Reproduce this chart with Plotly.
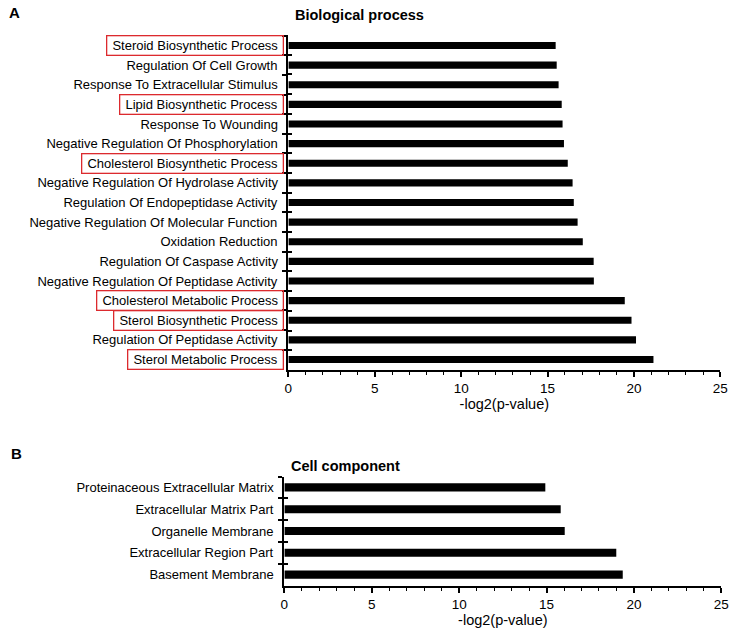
import plotly.graph_objects as go

# ---------------- data ----------------
bp_terms = [
    "Steroid Biosynthetic Process",
    "Regulation Of Cell Growth",
    "Response To Extracellular Stimulus",
    "Lipid Biosynthetic Process",
    "Response To Wounding",
    "Negative Regulation Of Phosphorylation",
    "Cholesterol Biosynthetic Process",
    "Negative Regulation Of Hydrolase Activity",
    "Regulation Of Endopeptidase Activity",
    "Negative Regulation Of Molecular Function",
    "Oxidation Reduction",
    "Regulation Of Caspase Activity",
    "Negative Regulation Of Peptidase Activity",
    "Cholesterol Metabolic Process",
    "Sterol Biosynthetic Process",
    "Regulation Of Peptidase Activity",
    "Sterol Metabolic Process",
]
bp_values = [15.47, 15.53, 15.64, 15.82, 15.87, 15.95, 16.17, 16.45, 16.52,
             16.74, 17.04, 17.67, 17.68, 19.47, 19.86, 20.12, 21.13]
bp_highlight = [True, False, False, True, False, False, True, False, False,
                False, False, False, False, True, True, False, True]

cc_terms = [
    "Proteinaceous Extracellular Matrix",
    "Extracellular Matrix Part",
    "Organelle Membrane",
    "Extracellular Region Part",
    "Basement Membrane",
]
cc_values = [14.93, 15.81, 16.04, 18.99, 19.36]

x_ticks = [0, 5, 10, 15, 20, 25]
x_title = "-log2(p-value)"
title_a = "Biological process"
title_b = "Cell component"

# ---------------- figure ----------------
W, H = 745, 635
FONT = "Arial, Liberation Sans, sans-serif"
RED = "#dc2a2e"

fig = go.Figure()
fig.add_trace(go.Bar(x=bp_values, y=bp_terms, orientation="h", width=0.36,
                     marker=dict(color="black", line=dict(width=0)),
                     xaxis="x", yaxis="y", showlegend=False))
fig.add_trace(go.Bar(x=bp_values, y=bp_terms, orientation="h", opacity=0,
                     hoverinfo="skip", xaxis="x", yaxis="y3", showlegend=False))
fig.add_trace(go.Bar(x=cc_values, y=cc_terms, orientation="h", width=0.37,
                     marker=dict(color="black", line=dict(width=0)),
                     xaxis="x2", yaxis="y2", showlegend=False))
fig.add_trace(go.Bar(x=cc_values, y=cc_terms, orientation="h", opacity=0,
                     hoverinfo="skip", xaxis="x2", yaxis="y4", showlegend=False))


def px_x(p):
    # compensate the viewer's slight horizontal mapping
    return ((p - 3.6) / 0.984) / W


def px_y(p):
    return 1 - p / H


xcommon = dict(range=[0, 25], autorange=False, tickvals=x_ticks, ticks="outside", ticklen=5,
               tickwidth=1.5, tickcolor="black", showline=True, linewidth=2,
               linecolor="black", showgrid=False, zeroline=False,
               tickfont=dict(size=13.5, color="black", family=FONT),
               minor=dict(dtick=1, ticks="outside", ticklen=3, tickwidth=1.2,
                          tickcolor="black", showgrid=False),
               title=dict(text=x_title, font=dict(size=14.5, color="black", family=FONT),
                          standoff=3))

ycommon = dict(type="category", tickson="boundaries", ticks="outside", ticklen=4,
               tickwidth=1.5, tickcolor="black", showline=True, linewidth=2,
               linecolor="black", showgrid=False, showticklabels=False,
               autorange="reversed")

fig.update_layout(
    width=W, height=H, autosize=False,
    margin=dict(l=0, r=0, t=0, b=0),
    paper_bgcolor="white", plot_bgcolor="white",
    font=dict(family=FONT, color="black"),
    xaxis=dict(domain=[px_x(288), px_x(720)], anchor="y", **xcommon),
    yaxis=dict(domain=[px_y(370), px_y(35)], anchor="x",
               categoryorder="array", categoryarray=bp_terms, **ycommon),
    yaxis3=dict(overlaying="y", anchor="x", type="category", tickson="boundaries",
                ticks="inside", ticklen=4, tickwidth=1.5, tickcolor="black",
                showline=False, showgrid=False, showticklabels=False,
                autorange="reversed", categoryorder="array", categoryarray=bp_terms),
    xaxis2=dict(domain=[px_x(284), px_x(721)], anchor="y2", **xcommon),
    yaxis2=dict(domain=[px_y(585.5), px_y(476.5)], anchor="x2",
                categoryorder="array", categoryarray=cc_terms, **ycommon),
    yaxis4=dict(overlaying="y2", anchor="x2", type="category", tickson="boundaries",
                ticks="inside", ticklen=4, tickwidth=1.5, tickcolor="black",
                showline=False, showgrid=False, showticklabels=False,
                autorange="reversed", categoryorder="array", categoryarray=cc_terms),
)

annotations = []
NB = "\u00a0"
for term, hl in zip(bp_terms, bp_highlight):
    annotations.append(dict(
        x=0, y=term, xref="x", yref="y", xanchor="right", yanchor="middle",
        xshift=-4, text=NB + term + NB, showarrow=False,
        font=dict(size=13, color="black", family=FONT),
        bordercolor=RED if hl else "rgba(0,0,0,0)", borderwidth=1.3, borderpad=1.5))
for term in cc_terms:
    annotations.append(dict(
        x=0, y=term, xref="x2", yref="y2", xanchor="right", yanchor="middle",
        xshift=-4, text=NB + term + NB, showarrow=False,
        font=dict(size=13, color="black", family=FONT),
        bordercolor="rgba(0,0,0,0)", borderwidth=1.3, borderpad=1.5))

annotations += [
    dict(x=px_x(293), y=px_y(15), xref="paper", yref="paper", xanchor="left",
         yanchor="middle", text="<b>" + title_a + "</b>", showarrow=False,
         font=dict(size=14.5, color="black", family=FONT)),
    dict(x=px_x(289), y=px_y(466), xref="paper", yref="paper", xanchor="left",
         yanchor="middle", text="<b>" + title_b + "</b>", showarrow=False,
         font=dict(size=14.5, color="black", family=FONT)),
    dict(x=px_x(7), y=px_y(12), xref="paper", yref="paper", xanchor="left",
         yanchor="middle", text="<b>A</b>", showarrow=False,
         font=dict(size=15, color="black", family=FONT)),
    dict(x=px_x(9), y=px_y(453), xref="paper", yref="paper", xanchor="left",
         yanchor="middle", text="<b>B</b>", showarrow=False,
         font=dict(size=15, color="black", family=FONT)),
]
fig.update_layout(annotations=annotations)

fig.write_html("out.html",
               config=dict(displayModeBar=False, responsive=False),
               post_script="document.body.style.margin='0px';document.body.style.padding='0px';document.body.style.overflow='hidden';")
